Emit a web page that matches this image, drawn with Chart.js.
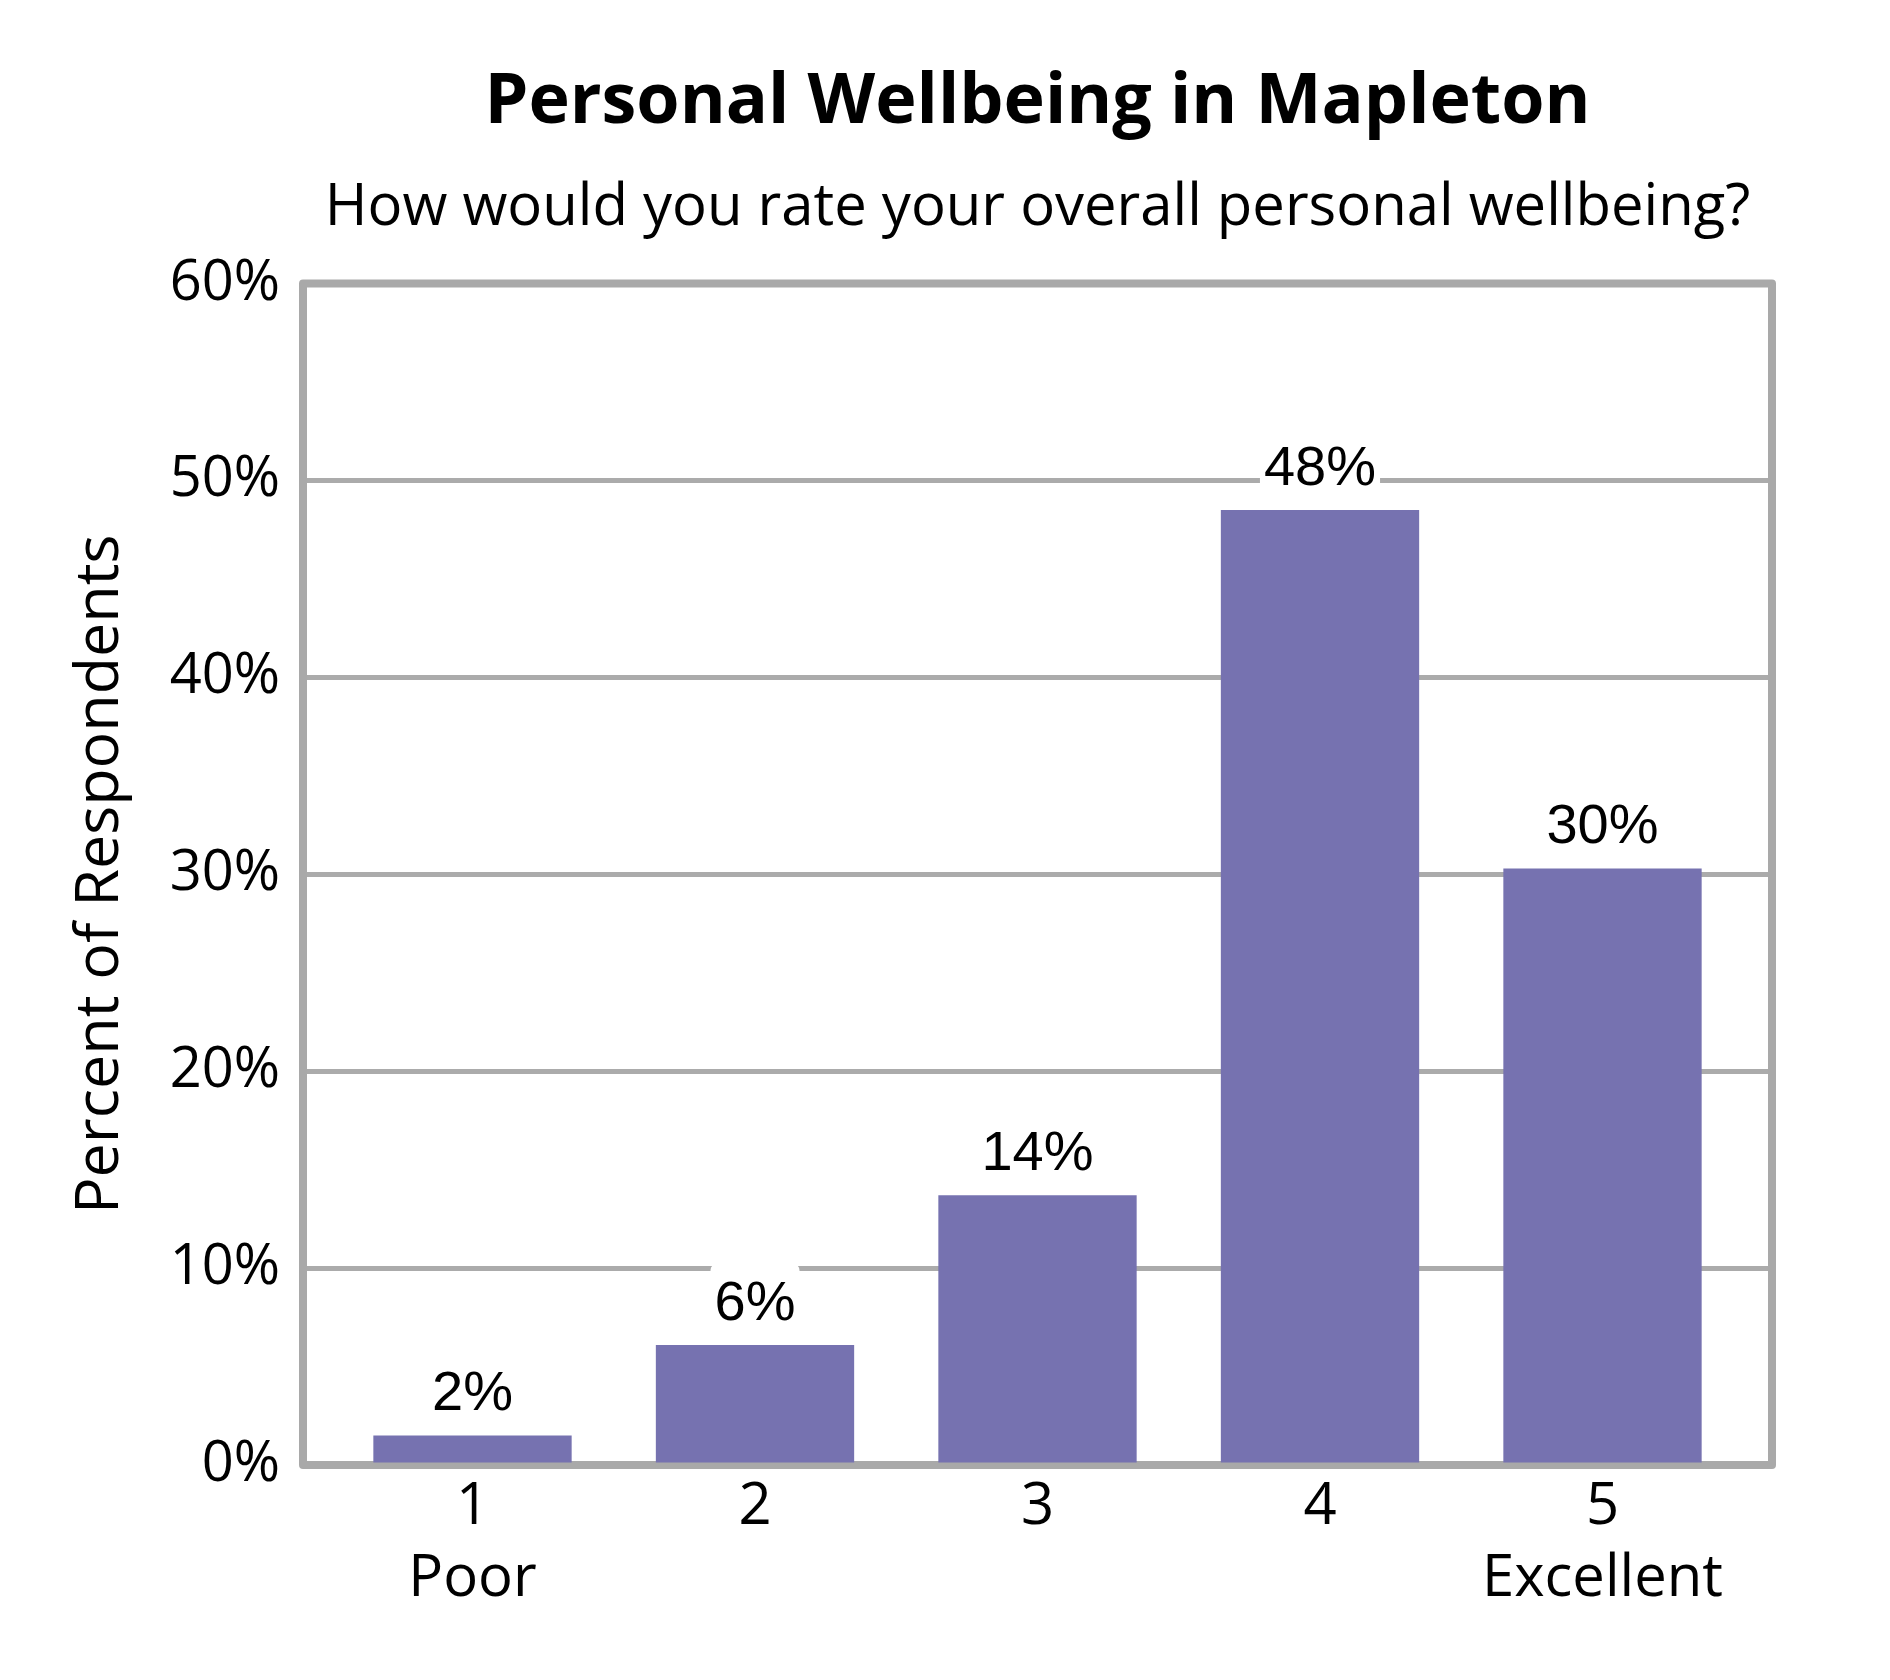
<!DOCTYPE html>
<html>
<head>
<meta charset="utf-8">
<title>Personal Wellbeing in Mapleton</title>
<script src="https://cdn.jsdelivr.net/npm/chart.js@4.4.1/dist/chart.umd.min.js"></script>
<style>
  html, body { margin: 0; padding: 0; background: #fff; }
  #wrap { width: 1890px; height: 1680px; }
</style>
</head>
<body>
<div id="wrap"><canvas id="myChart"></canvas></div>
<script>
const ratings = ['1', '2', '3', '4', '5']
const ratingNames = ['Poor', '', '', '', 'Excellent']
const percents = [1.5, 6.1, 13.7, 48.5, 30.3]
const percentLabels = ['2%', '6%', '14%', '48%', '30%']
const yTicks = [0, 10, 20, 30, 40, 50, 60]

Chart.defaults.font.family = '"Open Sans"'
Chart.defaults.color = '#000'

// grey box round the plot, drawn under the bars
const frameBox = {
  id: 'frameBox',
  beforeDatasetsDraw(chart) {
    const {ctx, chartArea: a} = chart
    ctx.save()
    ctx.strokeStyle = '#A9A9A9'
    ctx.lineWidth = 8
    ctx.lineJoin = 'round'
    ctx.strokeRect(a.left, a.top, a.right - a.left, a.bottom - a.top)
    ctx.restore()
  }
}

// value labels above each bar, on a white patch
const barLabels = {
  id: 'barLabels',
  afterDatasetsDraw(chart) {
    const ctx = chart.ctx
    const bars = chart.getDatasetMeta(0).data
    ctx.save()
    ctx.font = '56px "Liberation Sans"'
    ctx.textAlign = 'center'
    ctx.textBaseline = 'alphabetic'
    bars.forEach((bar, i) => {
      const txt = percentLabels[i]
      const w = ctx.measureText(txt).width
      const y = bar.y - 25
      ctx.fillStyle = '#fff'
      ctx.beginPath()
      ctx.roundRect(bar.x - w / 2 - 4, y - 56, w + 8, 68, 6)
      ctx.fill()
      ctx.fillStyle = '#000'
      ctx.fillText(txt, bar.x, y)
    })
    ctx.restore()
  }
}

const data = {
  datasets: [{
    data: percents.map((v, i) => ({ x: i + 1, y: v })),
    backgroundColor: '#7672B0',
    barPercentage: 0.702,
    categoryPercentage: 1
  }]
}

const config = {
  type: 'bar',
  data: data,
  options: {
    responsive: true,
    maintainAspectRatio: false,
    animation: false,
    layout: { padding: { top: 20, left: 20, right: 118, bottom: 0 } },
    plugins: {
      legend: { display: false },
      tooltip: { enabled: false },
      title: {
        display: true,
        text: 'Personal Wellbeing in Mapleton',
        fullSize: false,
        font: { size: 70, weight: 'bold', lineHeight: 1.2 },
        padding: { top: 41, bottom: 0 }
      },
      subtitle: {
        display: true,
        text: 'How would you rate your overall personal wellbeing?',
        fullSize: false,
        font: { size: 58, lineHeight: 1.2 },
        padding: { top: 29, bottom: 40 }
      }
    },
    scales: {
      x: {
        type: 'linear',
        min: 0.4,
        max: 5.6,
        offset: false,
        afterBuildTicks(axis) { axis.ticks = ratings.map((r, i) => ({ value: i + 1 })) },
        grid: { display: false, drawTicks: false, offset: false },
        border: { display: false },
        ticks: {
          font: { size: 58, lineHeight: 1.24 },
          padding: 7,
          maxRotation: 0,
          callback: (v, i) => [ratings[i], ratingNames[i]]
        },
        afterFit(scale) { scale.height = 215 }
      },
      y: {
        min: yTicks[0],
        max: yTicks[yTicks.length - 1],
        afterBuildTicks(axis) { axis.ticks = yTicks.map(v => ({ value: v })) },
        grid: { color: '#ABABAB', lineWidth: 5, drawTicks: false },
        border: { display: false },
        ticks: { font: { size: 56 }, padding: 23, callback: v => v + '%' },
        title: {
          display: true,
          text: 'Percent of Respondents',
          font: { size: 61, lineHeight: 1.2 },
          padding: { top: 44, bottom: 0 }
        },
        afterFit(scale) { scale.width = 283 }
      }
    }
  },
  plugins: [frameBox, barLabels]
}

const myChart = new Chart(document.getElementById('myChart'), config)
</script>
</body>
</html>
